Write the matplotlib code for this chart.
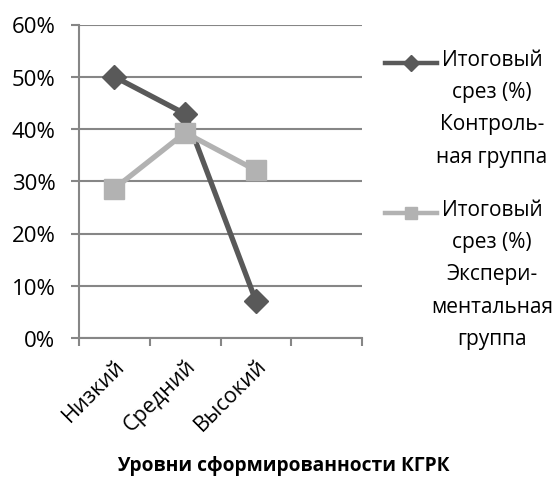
import matplotlib
matplotlib.use("Agg")
import matplotlib.pyplot as plt
from matplotlib.lines import Line2D
import numpy as np

plt.rcParams['font.family'] = ['Open Sans', 'DejaVu Sans']

categories = ["Низкий", "Средний", "Высокий"]
n_slots = 4
control = [50.0, 42.9, 7.1]
experimental = [28.6, 39.3, 32.1]
label_control = "Итоговый\nсрез (%)\nКонтроль-\nная группа"
label_exper = "Итоговый\nсрез (%)\nЭкспери-\nментальная\nгруппа"
yticks = [0, 10, 20, 30, 40, 50, 60]
xlabel = "Уровни сформированности КГРК"

dark = "#595959"
light = "#b2b2b2"
grid = "#868686"

W, H = 557, 485
fig = plt.figure(figsize=(W / 100, H / 100), dpi=100)
ax = fig.add_axes([79 / W, 1 - 339 / H, (362 - 79) / W, (339 - 25.5) / H])

x = np.arange(len(categories)) + 0.5
ax.plot(x, control, color=dark, lw=3.8, marker="D", ms=12, mec=dark, mfc=dark, zorder=3)
ax.plot(x, experimental, color=light, lw=3.8, marker="s", ms=15, mec=light, mfc=light, zorder=4)

ax.set_xlim(0, n_slots)
ax.set_ylim(0, 60)
ax.set_yticks(yticks)
ax.set_yticklabels([f"{v}%" for v in yticks])
ax.set_xticks(np.arange(n_slots + 1))
ax.set_xticklabels([])
ax.set_xticks(x, minor=True)
ax.set_xticklabels(categories, minor=True, rotation=45, ha="right", va="top",
                   rotation_mode="anchor")
ax.tick_params(axis="x", which="minor", length=0, pad=12, labelsize=15.5)
ax.tick_params(axis="x", which="major", length=6, width=1.5, color=grid, direction="out")
ax.tick_params(axis="y", length=6, width=1.5, color=grid, direction="out", labelsize=16, pad=11)

ax.grid(axis="y", color=grid, lw=1.5)
ax.set_axisbelow(True)
for s in ["top", "right"]:
    ax.spines[s].set_visible(False)
for s in ["left", "bottom"]:
    ax.spines[s].set_color(grid)
    ax.spines[s].set_linewidth(1.5)

# legend drawn manually
entries = [(label_control, dark, "D", 8, 64), (label_exper, light, "s", 9, 214)]
for lab, col, mk, ms, ypix in entries:
    yf = 1 - ypix / H
    fig.add_artist(Line2D([385 / W, 437 / W], [yf, yf], color=col, lw=3.2,
                          transform=fig.transFigure))
    fig.add_artist(Line2D([411 / W], [yf], color=col, marker=mk, ms=ms, mec=col, mfc=col,
                          transform=fig.transFigure))
    fig.text(492 / W, 1 - (ypix - 14) / H, lab, ha="center", va="top",
             multialignment="center", fontsize=15, linespacing=1.7)

fig.text(283 / W, 1 - 466 / H, xlabel, ha="center", va="center",
         fontsize=13.8, fontweight="bold")

fig.savefig("out.png", dpi=100)
